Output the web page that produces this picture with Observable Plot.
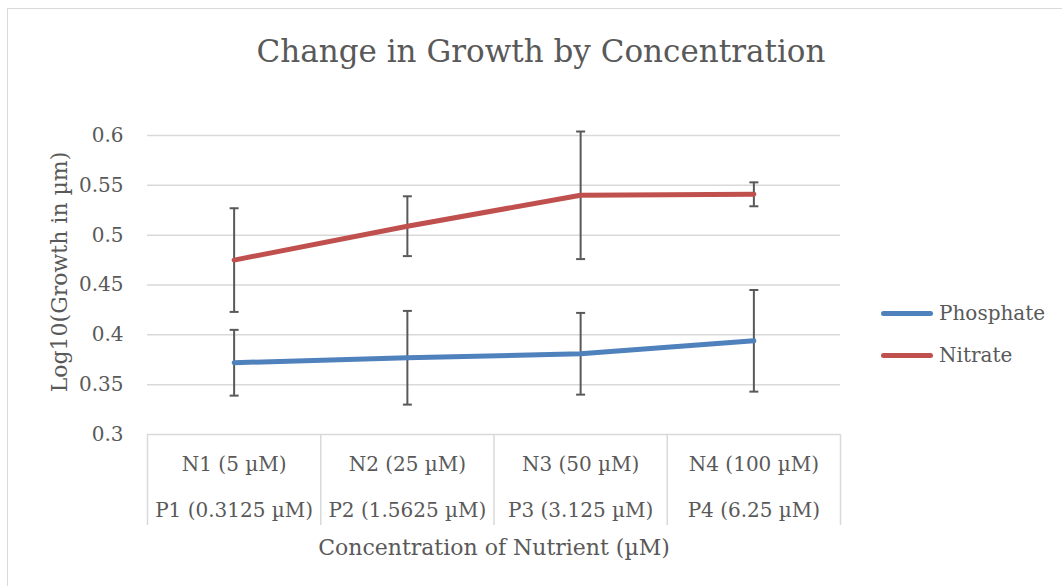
<!DOCTYPE html>
<html>
<head>
<meta charset="utf-8">
<script src="https://cdn.jsdelivr.net/npm/d3@7"></script>
<script src="https://cdn.jsdelivr.net/npm/@observablehq/plot@0.6"></script>
<style>
  html, body { margin: 0; padding: 0; background: #fff; }
  #wrap { position: relative; width: 1062px; height: 586px; overflow: hidden; font-family: "DejaVu Serif", serif; color: #595959; }
  #border { position: absolute; left: 7px; top: 8px; width: 1100px; height: 640px; border: 1.5px solid #D9D9D9; box-sizing: border-box; }
  #chart { position: absolute; left: 0; top: 0; }
  .leg { position: absolute; display: flex; align-items: center; font-size: 20px; color: #595959; }
  .leg .sw { width: 52px; height: 5px; border-radius: 3px; margin-right: 6px; }
</style>
</head>
<body>
<div id="wrap">
  <div id="border"></div>
  <div id="chart"></div>
  <div id="legend"></div>
</div>
<script>
// ---- data ----
const categoriesN = ["N1 (5 µM)", "N2 (25 µM)", "N3 (50 µM)", "N4 (100 µM)"];
const categoriesP = ["P1 (0.3125 µM)", "P2 (1.5625 µM)", "P3 (3.125 µM)", "P4 (6.25 µM)"];
const seriesNames = ["Phosphate", "Nitrate"];
const seriesColors = ["#4F81BD", "#C0504D"];
const phosphate = [0.372, 0.377, 0.381, 0.394];
const phosphateErr = [0.033, 0.047, 0.041, 0.051];
const nitrate = [0.475, 0.509, 0.540, 0.541];
const nitrateErr = [0.052, 0.030, 0.064, 0.012];
const yTicks = [0.3, 0.35, 0.4, 0.45, 0.5, 0.55, 0.6];
const titleText = "Change in Growth by Concentration";
const xTitle = "Concentration of Nutrient (µM)";
const yTitle = "Log10(Growth in µm)";

// ---- derived tables ----
const rows = [];
[phosphate, nitrate].forEach((vals, s) => {
  const errs = s === 0 ? phosphateErr : nitrateErr;
  vals.forEach((v, i) => rows.push({series: seriesNames[s], i, v, lo: v - errs[i], hi: v + errs[i]}));
});
const idx = categoriesN.map((_, i) => i);
const boundaries = [...idx.map(i => i - 0.5), idx.length - 0.5];

const capSymbol = {
  draw(ctx, size) {
    const r = Math.sqrt(size / Math.PI);
    ctx.moveTo(-r, 0);
    ctx.lineTo(r, 0);
  }
};

const gray = "#D9D9D9";
const textColor = "#595959";
const font = "DejaVu Serif";

const plot = Plot.plot({
  width: 1062,
  height: 586,
  marginLeft: 147,
  marginRight: 222,
  marginTop: 135,
  marginBottom: 152,
  style: {fontFamily: font, color: textColor, background: "transparent", overflow: "visible"},
  x: {type: "linear", domain: [-0.5, idx.length - 0.5], axis: null},
  y: {domain: [0.3, 0.6], axis: null},
  color: {domain: seriesNames, range: seriesColors},
  marks: [
    Plot.ruleY(yTicks, {stroke: gray, strokeWidth: 1.5}),
    Plot.ruleX(boundaries, {stroke: gray, strokeWidth: 1.5, insetTop: 299, insetBottom: -91}),
    Plot.axisY({ticks: yTicks, tickSize: 0, tickPadding: 24, tickFormat: d => String(d), label: null, fontSize: 20, fill: textColor}),
    // error bars
    Plot.ruleX(rows, {x: "i", y1: "lo", y2: "hi", stroke: textColor, strokeWidth: 2}),
    Plot.dot(rows, {x: "i", y: "lo", symbol: capSymbol, r: 4.5, stroke: textColor, strokeWidth: 2}),
    Plot.dot(rows, {x: "i", y: "hi", symbol: capSymbol, r: 4.5, stroke: textColor, strokeWidth: 2}),
    // lines
    Plot.line(rows, {x: "i", y: "v", z: "series", stroke: "series", strokeWidth: 5, strokeLinecap: "round", strokeLinejoin: "round"}),
    // category labels
    Plot.text(idx, {x: d => d, text: d => categoriesN[d], frameAnchor: "bottom", lineAnchor: "middle", dy: 30, fontSize: 20, fill: textColor}),
    Plot.text(idx, {x: d => d, text: d => categoriesP[d], frameAnchor: "bottom", lineAnchor: "middle", dy: 76, fontSize: 20, fill: textColor}),
    // axis titles
    Plot.text([xTitle], {frameAnchor: "bottom", lineAnchor: "middle", dy: 113, fontSize: 22, fill: textColor}),
    Plot.text([yTitle], {frameAnchor: "left", textAnchor: "middle", lineAnchor: "middle", dx: -88, dy: -13, rotate: -90, fontSize: 22, fill: textColor}),
    // chart title
    Plot.text([titleText], {frameAnchor: "top", lineAnchor: "middle", dx: 47, dy: -83, fontSize: 31, fill: textColor})
  ]
});
document.getElementById("chart").appendChild(plot);

// legend
const legend = document.getElementById("legend");
seriesNames.forEach((name, s) => {
  const item = document.createElement("div");
  item.className = "leg";
  item.style.left = "881px";
  item.style.top = (s === 0 ? 298 : 340) + "px";
  item.style.height = "30px";
  const sw = document.createElement("span");
  sw.className = "sw";
  sw.style.background = seriesColors[s];
  const label = document.createElement("span");
  label.textContent = name;
  item.appendChild(sw);
  item.appendChild(label);
  legend.appendChild(item);
});
</script>
</body>
</html>
